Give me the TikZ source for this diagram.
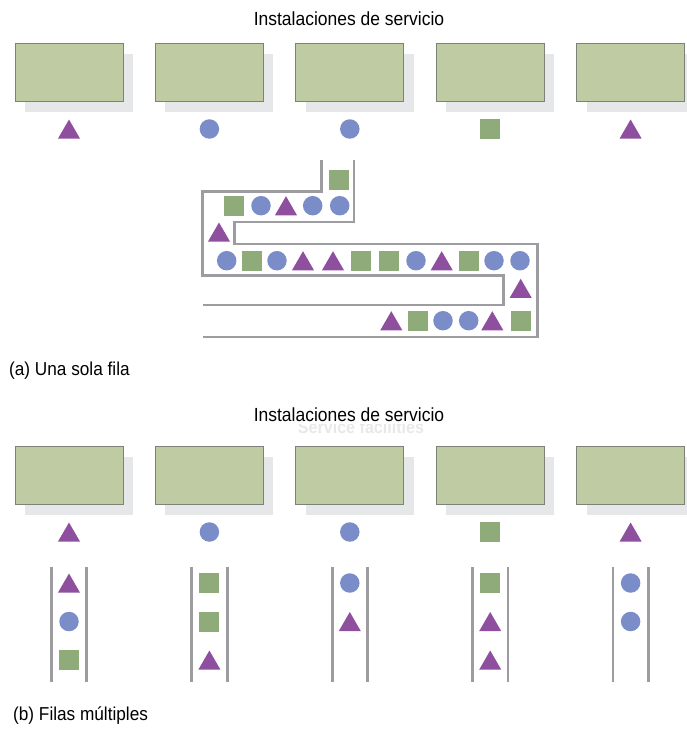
\documentclass[tikz,border=0pt]{standalone}
\usepackage{fontspec}
\setmainfont{Liberation Sans}[FakeStretch=0.92]
\usetikzlibrary{positioning,shapes.geometric,shadows}

\definecolor{facFill}{HTML}{BFCCA3}
\definecolor{facLine}{HTML}{7E8177}
\definecolor{facShadow}{HTML}{E6E7E9}
\definecolor{custTri}{HTML}{8E4F9E}
\definecolor{custDot}{HTML}{7A8DC8}
\definecolor{custSq}{HTML}{8FAB79}
\definecolor{wallGray}{HTML}{9C9CA1}
\definecolor{ghostGray}{HTML}{E8E8EA}

\begin{document}
\begin{tikzpicture}[
  x=1pt, y=-1pt,
  facility/.style={draw=facLine, line width=0.9pt, fill=facFill,
    minimum width=108pt, minimum height=58pt, inner sep=0pt,
    general shadow={fill=facShadow, shadow xshift=10pt, shadow yshift=-11pt}},
  ctri/.style={regular polygon, regular polygon sides=3, fill=custTri,
    minimum size=25.4pt, inner sep=0pt, yshift=-3.2pt},
  cdot/.style={circle, fill=custDot, minimum size=19.5pt, inner sep=0pt},
  csq/.style={fill=custSq, minimum size=20pt, inner sep=0pt},
  wall/.style={draw=wallGray, line width=2.8pt},
  ttl/.style={font=\fontsize{19}{22}\selectfont, anchor=base, inner sep=0pt, text depth=0pt},
  lbl/.style={font=\fontsize{18.7}{22}\selectfont, anchor=base west, inner sep=0pt}
]
\useasboundingbox (0,0) rectangle (686,731);
% ---- Row y-coordinates ----
\def\yFacA{72}
\def\yFacB{475}
\def\yRowA{205.7}
\def\yRowB{260.7}
\def\yRowC{320.7}

% ==== (a) one single queue ====
\node[ttl] (titleA) at (349,25) {Instalaciones de servicio};

% ---- Service facilities + customer being served ----
\foreach \k [count=\i] in {ctri,cdot,cdot,csq,ctri} {
  \node[facility] (fa\i) at ({69+140.4*(\i-1)},\yFacA) {};
  \node[\k] (sa\i) at ({69+140.4*(\i-1)},129) {};
}

% ---- Snake-shaped queue walls ----
\draw[wall] (321.7,160) -- (321.7,191.5) -- (202.3,191.5) -- (202.3,275.5)
  -- (503.3,275.5) -- (503.3,305) -- (203,305);
\draw[wall] (354,160) -- (354,222) -- (234.3,222) -- (234.3,244)
  -- (537.7,244) -- (537.7,337) -- (203,337);

% ---- Customers waiting in the single queue ----
\node[csq] (q0) at (339,180) {};
\foreach \x/\k [count=\n] in {234/csq,261/cdot,286/ctri,312.7/cdot,339.7/cdot}
  \node[\k] (qa\n) at (\x,\yRowA) {};
\node[ctri] (qturnA) at (219,232) {};
\foreach \x/\k [count=\n] in {226.7/cdot,252/csq,277/cdot,303/ctri,333/ctri,361/csq,
    389/csq,416/cdot,441.7/ctri,468.7/csq,494/cdot,520/cdot}
  \node[\k] (qb\n) at (\x,\yRowB) {};
\node[ctri] (qturnB) at (520.7,288.3) {};
\foreach \x/\k [count=\n] in {391.3/ctri,418/csq,443/cdot,468.7/cdot,492.3/ctri,521/csq}
  \node[\k] (qc\n) at (\x,\yRowC) {};

\node[lbl] (capA) at (9,375.5) {(a) Una sola fila};

% ==== (b) multiple queues ====
\node[ttl] (titleB) at (349,421) {Instalaciones de servicio};
\begin{scope}
  \clip (280,424) rectangle (440,440);
  \node[font=\fontsize{17.5}{20}\selectfont\bfseries, text=ghostGray, anchor=base,
    inner sep=0pt, text height=9pt] (ghost) at (361,433.5) {Service facilities};
\end{scope}

\foreach \k [count=\i] in {ctri,cdot,cdot,csq,ctri} {
  \node[facility] (fb\i) at ({69+140.4*(\i-1)},\yFacB) {};
  \node[\k] (sb\i) at ({69+140.4*(\i-1)},532) {};
  % lane walls
  \draw[wall] ({69+140.4*(\i-1)-17.7},567) -- ({69+140.4*(\i-1)-17.7},681.7);
  \draw[wall] ({69+140.4*(\i-1)+17.7},567) -- ({69+140.4*(\i-1)+17.7},681.7);
}

% ---- Customers in each lane (top to bottom) ----
\foreach \k [count=\r] in {ctri,cdot,csq}
  \node[\k] (la\r) at (69,{544.5+38.5*\r}) {};
\foreach \k [count=\r] in {csq,csq,ctri}
  \node[\k] (lb\r) at (209.4,{544.5+38.5*\r}) {};
\foreach \k [count=\r] in {cdot,ctri}
  \node[\k] (lc\r) at (349.8,{544.5+38.5*\r}) {};
\foreach \k [count=\r] in {csq,ctri,ctri}
  \node[\k] (ld\r) at (490.2,{544.5+38.5*\r}) {};
\foreach \k [count=\r] in {cdot,cdot}
  \node[\k] (le\r) at (630.6,{544.5+38.5*\r}) {};

\node[lbl] (capB) at (13,720.5) {(b) Filas múltiples};
\end{tikzpicture}
\end{document}
